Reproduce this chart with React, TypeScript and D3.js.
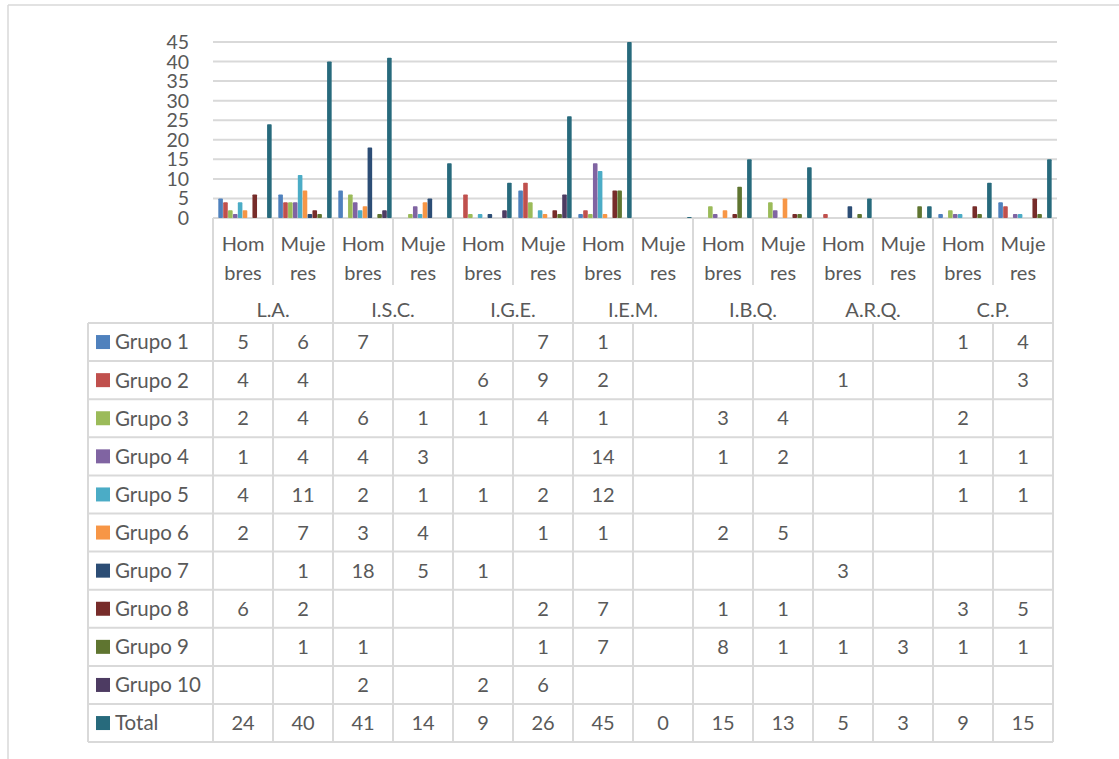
import React from "react";
import * as d3 from "d3";

const categories = ["L.A.", "I.S.C.", "I.G.E.", "I.E.M.", "I.B.Q.", "A.R.Q.", "C.P."];
const genders = ["Hombres", "Mujeres"];
const genderLines: Record<string, string[]> = { Hombres: ["Hom", "bres"], Mujeres: ["Muje", "res"] };

const seriesNames = ["Grupo 1", "Grupo 2", "Grupo 3", "Grupo 4", "Grupo 5", "Grupo 6", "Grupo 7", "Grupo 8", "Grupo 9", "Grupo 10", "Total"];
const seriesColors = ["#4F81BD", "#C0504D", "#9BBB59", "#8064A2", "#4BACC6", "#F79646", "#2C4D75", "#772C2A", "#5F7530", "#4D3B62", "#276A7C"];

const grupo1 = [5, 6, 7, null, null, 7, 1, null, null, null, null, null, 1, 4];
const grupo2 = [4, 4, null, null, 6, 9, 2, null, null, null, 1, null, null, 3];
const grupo3 = [2, 4, 6, 1, 1, 4, 1, null, 3, 4, null, null, 2, null];
const grupo4 = [1, 4, 4, 3, null, null, 14, null, 1, 2, null, null, 1, 1];
const grupo5 = [4, 11, 2, 1, 1, 2, 12, null, null, null, null, null, 1, 1];
const grupo6 = [2, 7, 3, 4, null, 1, 1, null, 2, 5, null, null, null, null];
const grupo7 = [null, 1, 18, 5, 1, null, null, null, null, null, 3, null, null, null];
const grupo8 = [6, 2, null, null, null, 2, 7, null, 1, 1, null, null, 3, 5];
const grupo9 = [null, 1, 1, null, null, 1, 7, null, 8, 1, 1, 3, 1, 1];
const grupo10 = [null, null, 2, null, 2, 6, null, null, null, null, null, null, null, null];
const total = [24, 40, 41, 14, 9, 26, 45, 0, 15, 13, 5, 3, 9, 15];

const yTicks = [0, 5, 10, 15, 20, 25, 30, 35, 40, 45];

const seriesValues = [grupo1, grupo2, grupo3, grupo4, grupo5, grupo6, grupo7, grupo8, grupo9, grupo10, total];

export default function App() {
  const W = 1119, H = 759;
  const left = 213, right = 1053;
  const top = 42, zeroY = 218;
  const labelLeft = 88;
  const hdrMid = 285, tableTop = 323, rowH = 38.1;
  const font = "Lato, 'Open Sans', sans-serif";
  const textColor = "#595959";
  const lineColor = "#d9d9d9";
  const fs = 20;

  const columns = categories.flatMap((c) => genders.map((g) => `${c}|${g}`));
  const x0 = d3.scaleBand<string>().domain(columns).range([left, right]).paddingInner(0).paddingOuter(0);
  const colW = x0.bandwidth();
  const x1 = d3.scaleBand<string>().domain(seriesNames).range([0, colW]).paddingInner(0.06).paddingOuter(0.68).align(0.8);
  const y = d3.scaleLinear().domain([0, 45]).range([zeroY, top]);
  const catX = d3.scaleBand<string>().domain(categories).range([left, right]);

  const tableBottom = tableTop + rowH * (seriesNames.length);

  return (
    <svg width={W} height={H} style={{ position: "absolute", left: 0, top: 0, background: "#fff" }} fontFamily={font}>
      {/* outer frame */}
      <line x1={8} y1={5} x2={W} y2={5} stroke={lineColor} strokeWidth={1.5} />
      <line x1={8} y1={5} x2={8} y2={H} stroke={lineColor} strokeWidth={1.5} />

      {/* gridlines */}
      {yTicks.map((t) => (
        <g key={t}>
          <line x1={left} x2={1057} y1={y(t)} y2={y(t)} stroke={lineColor} strokeWidth={2} />
          <text x={189} y={y(t)} dy="0.36em" textAnchor="end" fontSize={19.5} fill={textColor}>{t}</text>
        </g>
      ))}

      {/* bars */}
      {seriesValues.map((vals, si) => (
        <g key={si} fill={seriesColors[si]}>
          {vals.map((v, ci) => {
            if (v === null || v === undefined) return null;
            const bx = (x0(columns[ci]) as number) + (x1(seriesNames[si]) as number);
            const h = Math.max(1, zeroY - y(v));
            return <rect key={ci} x={bx} y={zeroY - h} width={x1.bandwidth()} height={h} rx={0.8} />;
          })}
        </g>
      ))}

      {/* table lines */}
      {d3.range(seriesNames.length + 1).map((i) => (
        <line key={"h" + i} x1={labelLeft} x2={right} y1={tableTop + i * rowH} y2={tableTop + i * rowH} stroke={lineColor} strokeWidth={2} />
      ))}
      <line x1={labelLeft} x2={labelLeft} y1={tableTop} y2={tableBottom} stroke={lineColor} strokeWidth={2} />
      {columns.map((c, i) => {
        const xx = x0(c) as number;
        const isCatStart = i % 2 === 0;
        return isCatStart ? (
          <line key={"v" + i} x1={xx} x2={xx} y1={zeroY} y2={tableBottom} stroke={lineColor} strokeWidth={2} />
        ) : (
          <g key={"v" + i}>
            <line x1={xx} x2={xx} y1={zeroY} y2={hdrMid} stroke={lineColor} strokeWidth={2} />
            <line x1={xx} x2={xx} y1={tableTop} y2={tableBottom} stroke={lineColor} strokeWidth={2} />
          </g>
        );
      })}
      <line x1={right} x2={right} y1={zeroY} y2={tableBottom} stroke={lineColor} strokeWidth={2} />

      {/* header labels */}
      {columns.map((c) => {
        const g = c.split("|")[1];
        const cx = (x0(c) as number) + colW / 2;
        return (
          <g key={"hd" + c}>
            {genderLines[g].map((ln, k) => (
              <text key={k} x={cx} y={251 + k * 28.5} textAnchor="middle" fontSize={fs} fill={textColor}>{ln}</text>
            ))}
          </g>
        );
      })}
      {categories.map((c) => (
        <text key={"cat" + c} x={(catX(c) as number) + catX.bandwidth() / 2} y={317} textAnchor="middle" fontSize={fs} fill={textColor}>{c}</text>
      ))}

      {/* rows */}
      {seriesNames.map((s, si) => {
        const cy = tableTop + si * rowH + rowH / 2;
        return (
          <g key={"row" + s}>
            <rect x={96} y={cy - 7} width={14} height={14} fill={seriesColors[si]} />
            <text x={115} y={cy} dy="0.36em" fontSize={fs + 0.5} fill={textColor}>{s}</text>
            {seriesValues[si].map((v, ci) =>
              v === null || v === undefined ? null : (
                <text key={ci} x={(x0(columns[ci]) as number) + colW / 2} y={cy} dy="0.36em" textAnchor="middle" fontSize={fs} fill={textColor}>{v}</text>
              )
            )}
          </g>
        );
      })}
    </svg>
  );
}
